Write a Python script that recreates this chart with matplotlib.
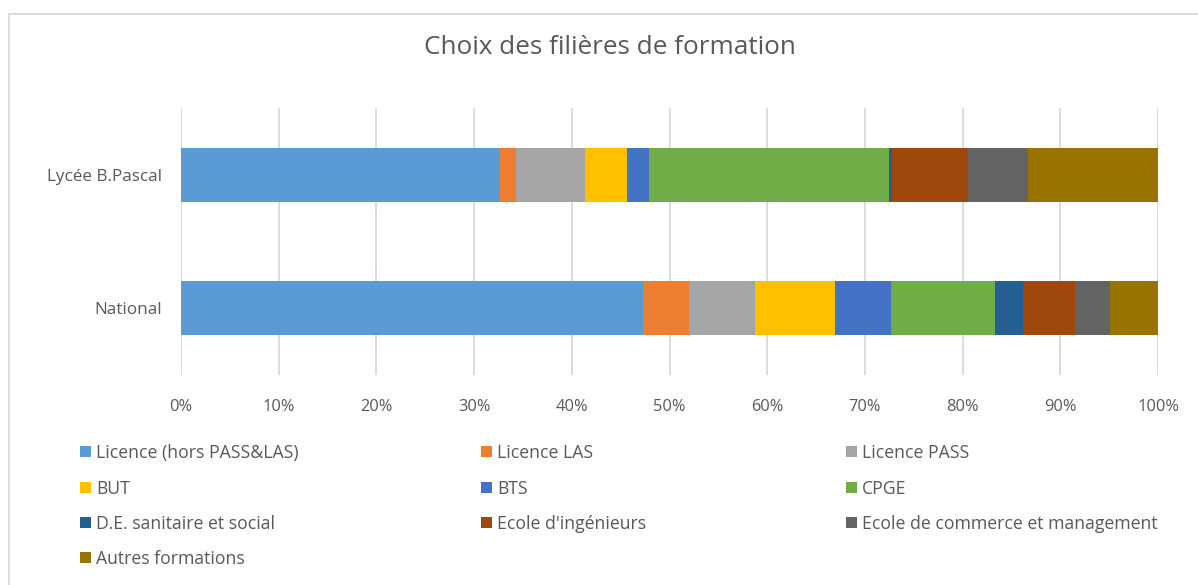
import matplotlib
matplotlib.use("Agg")
import matplotlib.pyplot as plt
from matplotlib.patches import Rectangle
import numpy as np

categories = ["National", "Lycée B.Pascal"]
series_names = ["Licence (hors PASS&LAS)", "Licence LAS", "Licence PASS", "BUT", "BTS",
                "CPGE", "D.E. sanitaire et social", "Ecole d'ingénieurs",
                "Ecole de commerce et management", "Autres formations"]
national = [47.3, 4.7, 6.8, 8.1, 5.8, 10.6, 2.9, 5.3, 3.6, 4.9]
lycee = [32.7, 1.6, 7.1, 4.2, 2.3, 24.6, 0.3, 7.8, 6.1, 13.3]
colors = ["#5B9BD5", "#ED7D31", "#A5A5A5", "#FFC000", "#4472C4",
          "#70AD47", "#255E91", "#9E480E", "#636363", "#997300"]
xticks = [0, 10, 20, 30, 40, 50, 60, 70, 80, 90, 100]
title = "Choix des filières de formation"

W, H = 1198, 585
fig = plt.figure(figsize=(W / 100, H / 100), dpi=100)
FONT = "Open Sans"
TXT = "#595959"

# chart border
fig.add_artist(Rectangle((9 / W, -0.1), 1.2, (H - 14) / H + 0.1, transform=fig.transFigure,
                         fill=False, edgecolor="#D9D9D9", linewidth=1.3))

ax = fig.add_axes([181 / W, (H - 375) / H, (1158 - 181) / W, (375 - 108) / H])
data = np.array([national, lycee])
totals = data.sum(axis=1, keepdims=True)
pct = data / totals * 100
left = np.zeros(len(categories))
ypos = np.arange(len(categories))
for i, name in enumerate(series_names):
    ax.barh(ypos, pct[:, i], left=left, height=0.404, color=colors[i], label=name, zorder=3)
    left += pct[:, i]

ax.set_xlim(0, 100)
ax.set_ylim(-0.5, 1.5)
ax.set_xticks(xticks)
ax.set_xticklabels([f"{t}%" for t in xticks], fontsize=11.8, color=TXT, family=FONT)
ax.set_yticks(ypos)
ax.set_yticklabels(categories, fontsize=12.3, color=TXT, family=FONT)
ax.tick_params(axis="both", length=0)
ax.tick_params(axis="x", pad=17)
ax.tick_params(axis="y", pad=14)
ax.grid(axis="x", color="#D9D9D9", linewidth=1.3, zorder=0)
for s in ax.spines.values():
    s.set_visible(False)

fig.text(610 / W, 1 - 48 / H, title, ha="center", va="center", fontsize=18.8,
         color=TXT, family=FONT)

# legend (row-major, 3 columns)
col_sq = [80, 481, 846]
row_y = [451, 487, 522, 557]
for i, name in enumerate(series_names):
    r, c = divmod(i, 3)
    x0 = col_sq[c]
    y0 = row_y[r]
    fig.add_artist(Rectangle((x0 / W, 1 - (y0 + 5.5) / H), 11 / W, 11 / H,
                             transform=fig.transFigure, facecolor=colors[i], edgecolor="none"))
    fig.text((x0 + 16) / W, 1 - y0 / H, name, ha="left", va="center_baseline", fontsize=12.7,
             color=TXT, family=FONT)

fig.savefig("out.png", dpi=100)
